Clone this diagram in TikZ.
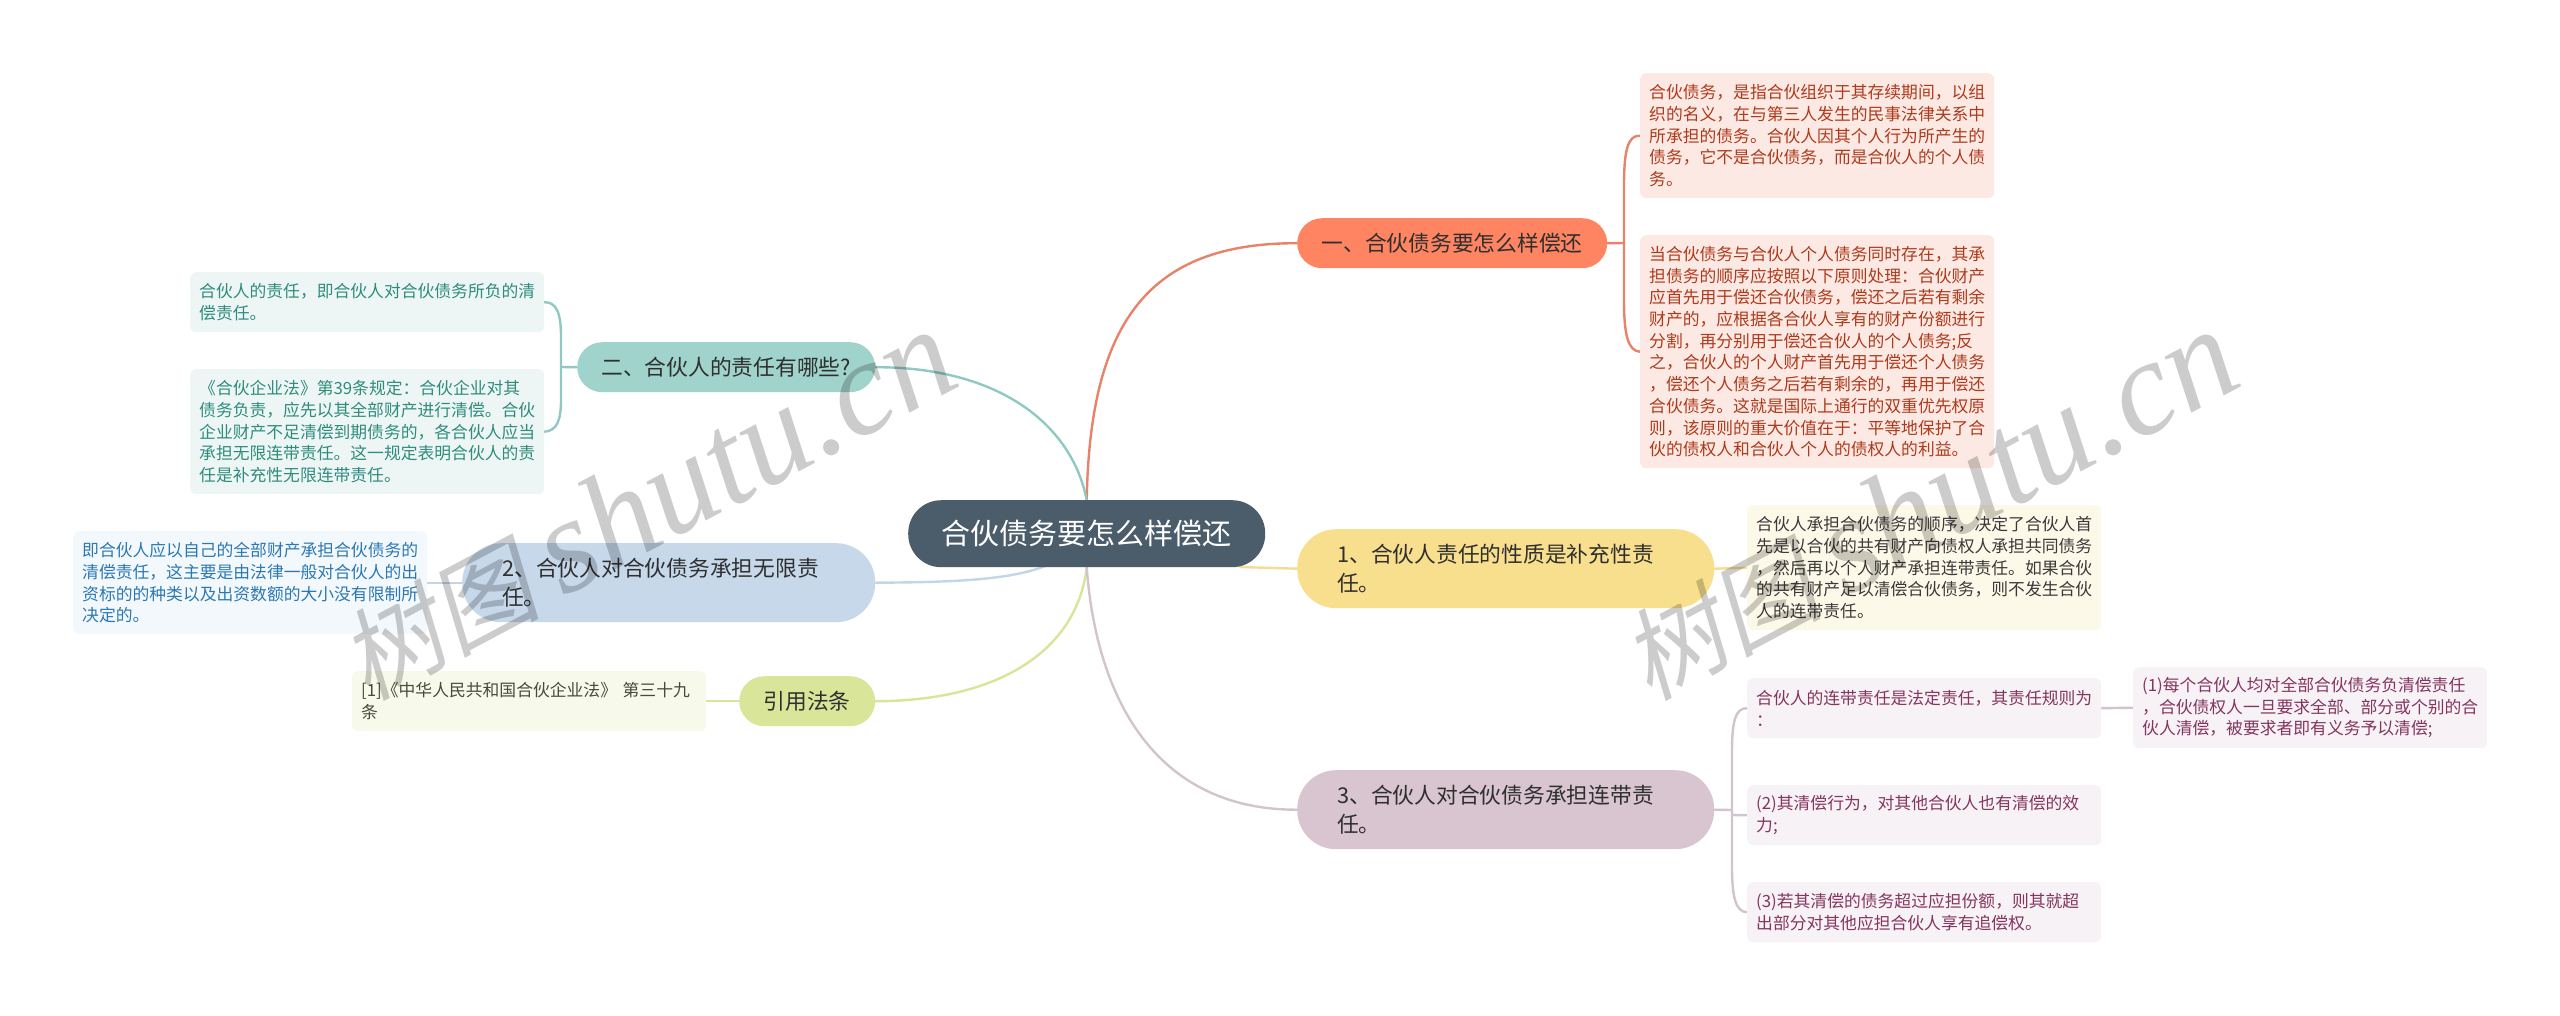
\documentclass[tikz,border=0pt]{standalone}
\usepackage{fontspec}
\usetikzlibrary{backgrounds}
\setmainfont{Noto Sans CJK SC}
\newfontfamily\wmlatin{Liberation Serif}[ItalicFont=* Italic]
\newfontfamily\wmcjk{Noto Sans CJK SC}[FakeSlant=0.2]
\begin{document}
\begin{tikzpicture}[x=1pt,y=-1pt,
  rootnode/.style={rounded corners=33pt,fill=rootfill,text=white,minimum width=357pt,minimum height=67pt,inner sep=0pt,anchor=north west,font=\fontsize{29}{36}\selectfont},
  hubone/.style={rounded corners=25pt,inner sep=0pt,anchor=north west,minimum height=50pt,font=\fontsize{21.75}{29}\selectfont,text=hubtext},
  hubtwo/.style={rounded corners=39pt,inner xsep=40pt,inner ysep=0pt,anchor=north west,minimum height=79pt,text width=337pt,align=left,font=\fontsize{21.75}{29}\selectfont,text=hubtext},
  leaf/.style={rounded corners=6pt,inner xsep=9pt,inner ysep=0pt,anchor=north west,text width=336pt,align=left,font=\fontsize{16.8}{21.7}\selectfont},
  redleaf/.style={leaf,fill=redbg,text=redtx},
  yelleaf/.style={leaf,fill=yelbg,text=yeltx},
  purleaf/.style={leaf,fill=purbg,text=purtx},
  tealleaf/.style={leaf,fill=tealbg,text=tealtx},
  blueleaf/.style={leaf,fill=bluebg,text=bluetx},
  grnleaf/.style={leaf,fill=grnbg,text=grntx},
  link/.style={line width=2.4pt,line cap=round},
  watermark/.style={rotate=28,text=black,opacity=0.2,inner sep=0pt,font=\fontsize{100}{130}\selectfont}
]
\definecolor{rootfill}{HTML}{4B5C6B}
\definecolor{hubtext}{HTML}{2F2F2F}
\definecolor{redhub}{HTML}{FF8562}\definecolor{redln}{HTML}{E8836A}\definecolor{redbg}{HTML}{FDE9E3}\definecolor{redtx}{HTML}{AE3A1C}
\definecolor{yelhub}{HTML}{F8DF8E}\definecolor{yelln}{HTML}{F5DC94}\definecolor{yelbg}{HTML}{FDF9E8}\definecolor{yeltx}{HTML}{3A3A3A}
\definecolor{purhub}{HTML}{D8C5CF}\definecolor{purln}{HTML}{D3C3CD}\definecolor{purbg}{HTML}{F6F2F5}\definecolor{purtx}{HTML}{85355F}
\definecolor{tealhub}{HTML}{A0D3CC}\definecolor{tealln}{HTML}{8FC9C2}\definecolor{tealbg}{HTML}{EDF6F5}\definecolor{tealtx}{HTML}{2F8C7D}
\definecolor{bluehub}{HTML}{C6D8EA}\definecolor{blueln}{HTML}{C2D6E8}\definecolor{bluebg}{HTML}{F3F8FC}\definecolor{bluetx}{HTML}{2B78B4}
\definecolor{grnhub}{HTML}{D9E69A}\definecolor{grnln}{HTML}{D8E598}\definecolor{grnbg}{HTML}{F7F9EA}\definecolor{grntx}{HTML}{4A4A3A}
\useasboundingbox (0,0) rectangle (2560,1015);

\node[rootnode] (root) at (908,500) {合伙债务要怎么样偿还};
\node[hubone,minimum width=310pt,fill=redhub] (h1) at (1297,218) {一、合伙债务要怎么样偿还};
\node[hubtwo,fill=yelhub] (hy) at (1297,529) {1、合伙人责任的性质是补充性责\\任。};
\node[hubtwo,fill=purhub] (hp) at (1297,770) {3、合伙人对合伙债务承担连带责\\任。};
\node[hubone,minimum width=298pt,fill=tealhub] (h2) at (577,342) {二、合伙人的责任有哪些?};
\node[hubtwo,text width=333pt,fill=bluehub] (hb) at (462,543) {2、合伙人对合伙债务承担无限责\\任。};
\node[hubone,minimum width=136pt,fill=grnhub] (hg) at (739,676) {引用法条};
\node[redleaf,minimum height=125pt] (A) at (1640,73) {合伙债务，是指合伙组织于其存续期间，以组\\织的名义，在与第三人发生的民事法律关系中\\所承担的债务。合伙人因其个人行为所产生的\\债务，它不是合伙债务，而是合伙人的个人债\\务。};
\node[redleaf,minimum height=233pt] (B) at (1640,235) {当合伙债务与合伙人个人债务同时存在，其承\\担债务的顺序应按照以下原则处理：合伙财产\\应首先用于偿还合伙债务，偿还之后若有剩余\\财产的，应根据各合伙人享有的财产份额进行\\分割，再分别用于偿还合伙人的个人债务;反\\之，合伙人的个人财产首先用于偿还个人债务\\，偿还个人债务之后若有剩余的，再用于偿还\\合伙债务。这就是国际上通行的双重优先权原\\则，该原则的重大价值在于：平等地保护了合\\伙的债权人和合伙人个人的债权人的利益。};
\node[yelleaf,minimum height=125pt] (C) at (1747,505) {合伙人承担合伙债务的顺序，决定了合伙人首\\先是以合伙的共有财产向债权人承担共同债务\\，然后再以个人财产承担连带责任。如果合伙\\的共有财产足以清偿合伙债务，则不发生合伙\\人的连带责任。};
\node[purleaf,minimum height=60pt] (D) at (1747,678) {合伙人的连带责任是法定责任，其责任规则为\\：};
\node[purleaf,minimum height=81pt] (E) at (2133,667) {(1)每个合伙人均对全部合伙债务负清偿责任\\，合伙债权人一旦要求全部、部分或个别的合\\伙人清偿，被要求者即有义务予以清偿;};
\node[purleaf,minimum height=60pt] (F) at (1747,785) {(2)其清偿行为，对其他合伙人也有清偿的效\\力;};
\node[purleaf,minimum height=60pt] (G) at (1747,882) {(3)若其清偿的债务超过应担份额，则其就超\\出部分对其他应担合伙人享有追偿权。};
\node[tealleaf,minimum height=60pt] (H) at (190,272) {合伙人的责任，即合伙人对合伙债务所负的清\\偿责任。};
\node[tealleaf,minimum height=125pt] (I) at (190,369) {《合伙企业法》第39条规定：合伙企业对其\\债务负责，应先以其全部财产进行清偿。合伙\\企业财产不足清偿到期债务的，各合伙人应当\\承担无限连带责任。这一规定表明合伙人的责\\任是补充性无限连带责任。};
\node[blueleaf,minimum height=103pt] (J) at (73,531) {即合伙人应以自己的全部财产承担合伙债务的\\清偿责任，这主要是由法律一般对合伙人的出\\资标的的种类以及出资数额的大小没有限制所\\决定的。};
\node[grnleaf,minimum height=60pt] (K) at (352,671) {[1]《中华人民共和国合伙企业法》 第三十九\\条};

\coordinate (pr) at (1624,243);
\coordinate (pt) at (561,367);
\coordinate (pp) at (1732,810);
\coordinate (ppf) at (1732,815);
\coordinate (ry) at (1240,567);

\begin{scope}[on background layer]
% main branches
\draw[link,redln] (root.north) .. controls (1090,320) and (1150,243) .. (h1.west);
\draw[link,tealln] (root.north) .. controls (1072,425) and (1000,367) .. (h2.east);
\draw[link,blueln] (hb.east) .. controls (990,582) and (1060,578) .. (root.center);
\draw[link,grnln] (root.south) .. controls (1077,650) and (1000,701) .. (hg.east);
\draw[link,purln] (root.south) .. controls (1097,705) and (1160,810) .. (hp.west);
\draw[link,yelln] (hy.west) -- (ry);
% right-hand groups
\draw[link,redln] (h1.east) -- (pr);
\draw[link,redln] (A.west) .. controls (1628,135) and (1624,150) .. (1624,185) -- (1624,300) .. controls (1624,335) and (1628,351) .. (B.west);
\draw[link,yelln] (hy.east) -- (C.west);
\draw[link,purln] (hp.east) -- (pp);
\draw[link,purln] (ppf) -- (F.west);
\draw[link,purln] (D.west) .. controls (1736,708) and (1732,720) .. (1732,750) -- (1732,867) .. controls (1732,898) and (1736,912) .. (G.west);
\draw[link,purln] (D.east) -- (E.west);
% left-hand groups
\draw[link,tealln] (h2.west) -- (pt);
\draw[link,tealln] (H.east) .. controls (557,302) and (561,314) .. (561,337) -- (561,400) .. controls (561,420) and (557,431) .. (I.east);
\draw[link,blueln] (hb.west) -- (J.east);
\draw[link,grnln] (hg.west) -- (K.east);
\end{scope}

% watermarks
\node[watermark] (wm1) at (646,505) {\wmcjk 树图 {\fontsize{135}{130}\selectfont\wmlatin\itshape shutu.cn}};
\node[watermark] (wm2) at (1928,505) {\wmcjk 树图 {\fontsize{135}{130}\selectfont\wmlatin\itshape shutu.cn}};
\end{tikzpicture}
\end{document}
